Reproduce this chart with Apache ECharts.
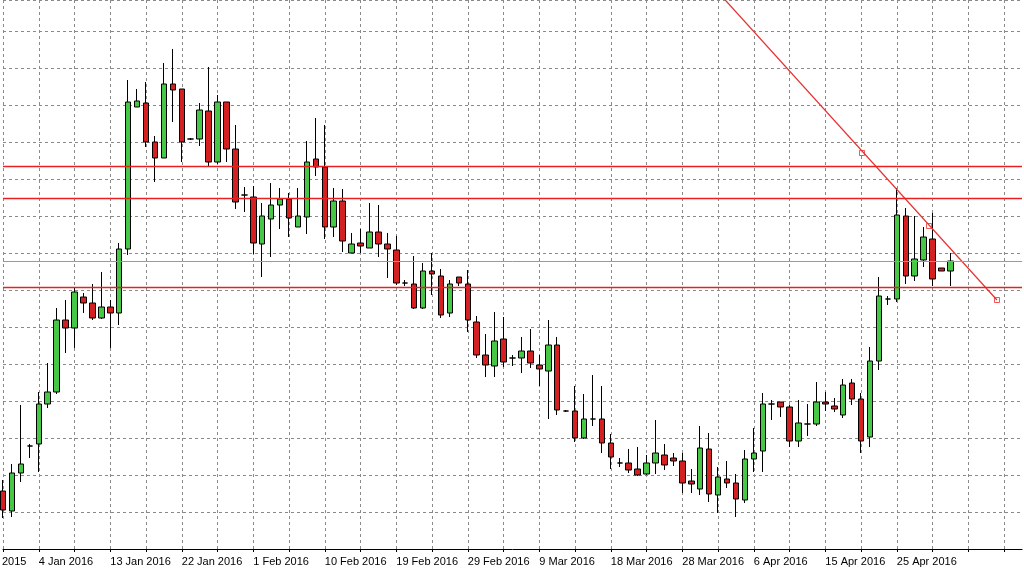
<!DOCTYPE html>
<html>
<head>
<meta charset="utf-8">
<script src="https://cdn.jsdelivr.net/npm/echarts@6/dist/echarts.min.js"></script>
<style>
  html, body { margin: 0; padding: 0; background: #fff; }
  #chart { width: 1024px; height: 575px; }
</style>
</head>
<body>
<div id="chart"></div>
<script>
// 日期标签（每8根K线一个）
var labelDates = {4:'4 Jan 2016', 12:'13 Jan 2016', 20:'22 Jan 2016', 28:'1 Feb 2016', 36:'10 Feb 2016',
  44:'19 Feb 2016', 52:'29 Feb 2016', 60:'9 Mar 2016', 68:'18 Mar 2016', 76:'28 Mar 2016',
  84:'6 Apr 2016', 92:'15 Apr 2016', 100:'25 Apr 2016'};
var slotCount = 115;

// K线数据 [开, 收, 低, 高]
var candles = [
  [58,39,31,69],[38,76,32,85],[76,85,67,144],[103,103,91,105],[105,145,77,157],
  [145,157,141,186],[157,229,155,241],[229,221,196,249],[221,257,201,262],[252,246,236,256],
  [246,231,229,265],[231,242,230,277],[242,236,201,249],[236,300,224,306],[300,447,294,469],
  [442,448,442,460],[446,407,402,467],[407,391,367,413],[391,465,391,486],[465,459,427,500],
  [460,407,387,460],[410,410,409,411],[410,439,403,446],[438,387,382,482],[387,447,385,454],
  [447,400,387,447],[400,347,340,424],[354,354,337,362],[352,306,295,363],[305,333,272,346],
  [330,344,292,366],[344,350,320,361],[350,331,312,356],[322,333,322,361],[332,387,315,408],
  [390,382,373,431],[382,322,310,424],[322,348,312,361],[348,308,297,360],[296,305,296,316],
  [306,303,296,320],[301,317,301,346],[317,305,292,344],[305,300,271,316],[299,266,264,313],
  [266,266,263,269],[265,241,240,293],[241,278,240,286],[278,275,254,296],[273,234,231,280],
  [236,265,232,269],[272,266,263,272],[265,229,217,279],[227,194,191,233],[194,184,172,215],
  [183,208,172,237],[210,187,182,232],[191,191,183,194],[191,198,176,212],[198,186,181,220],
  [184,180,163,194],[178,204,130,229],[204,139,134,212],[138,138,137,139],[138,111,107,163],
  [111,130,110,155],[130,130,123,174],[130,106,96,163],[106,92,80,115],[86,86,82,91],
  [86,79,76,100],[80,74,73,102],[75,86,74,94],[86,96,75,129],[94,84,79,105],
  [91,88,83,96],[88,66,56,96],[68,65,56,80],[60,101,54,123],[100,55,47,116],
  [54,72,36,82],[70,66,61,88],[66,50,32,75],[49,90,46,99],[90,96,77,121],
  [98,145,77,156],[145,145,129,149],[147,142,132,147],[142,108,102,144],[108,126,102,149],
  [125,125,113,145],[125,147,123,167],[147,145,138,157],[143,140,137,151],[134,164,131,170],
  [166,150,144,170],[150,108,96,156],[112,188,102,202],[188,253,179,272],[250,250,244,253],
  [250,334,247,361],[333,273,265,341],[273,290,268,333],[289,312,282,322],[310,270,263,336],
  [281,278,278,281],[278,288,263,296]
];

// 水平支撑/阻力线
var redLevels = [383, 351, 262];
var lastPrice = 288;
// 趋势线（两端点）及锚点
var trendLine = [[80.8, 549], [111.2, 249]];
var trendMarks = [[96.1, 396], [103.6, 323], [111.2, 249]];

var categories = [];
for (var i = 0; i < slotCount; i++) categories.push(labelDates[i] || '');

var myChart = echarts.init(document.getElementById('chart'));

var gridStyle = { color: '#8a8a8a', type: [3, 3], width: 1 };

var levelLines = [];
redLevels.forEach(function (v) {
  levelLines.push({ yAxis: v });
});
levelLines.push({ yAxis: lastPrice, lineStyle: { color: '#9a9a9a', type: 'solid', width: 1 } });

var option = {
  animation: false,
  backgroundColor: '#fff',
  grid: { left: 3, right: 2, top: 0, bottom: 26 },
  xAxis: [{
    type: 'category',
    data: categories,
    boundaryGap: false,
    axisLine: { show: true, lineStyle: { color: '#000', width: 1 } },
    axisTick: { show: true, length: 3, lineStyle: { color: '#000' },
      interval: function (i) { return i % 4 === 0; } },
    axisLabel: {
      interval: function (i, v) { return v !== ''; },
      align: 'left', margin: 7, color: '#000',
      fontFamily: 'Liberation Sans', fontSize: 11
    },
    splitLine: { show: true, interval: function (i) { return i % 4 === 0; }, lineStyle: gridStyle }
  }, {
    type: 'value', min: 0, max: slotCount - 1, show: false
  }],
  yAxis: {
    type: 'value', min: 0, max: 549, interval: 37,
    axisLine: { show: false }, axisTick: { show: false }, axisLabel: { show: false },
    splitLine: { show: true, lineStyle: gridStyle }
  },
  graphic: [{
    type: 'text', left: 2, top: 556,
    style: { text: '2015', fill: '#000', font: '11px "Liberation Sans"' }
  }],
  series: [{
    type: 'candlestick',
    data: candles,
    barWidth: 6,
    clip: false,
    itemStyle: {
      color: '#46c846', color0: '#d42020',
      borderColor: '#000', borderColor0: '#000', borderWidth: 1
    },
    markLine: {
      silent: true, symbol: 'none', label: { show: false },
      lineStyle: { color: '#e82020', type: 'solid', width: 1.3 },
      data: levelLines
    }
  }, {
    type: 'line',
    xAxisIndex: 1,
    data: trendLine,
    symbol: 'none',
    lineStyle: { color: '#e83030', width: 1.2 }
  }, {
    type: 'scatter',
    xAxisIndex: 1,
    data: trendMarks,
    symbol: 'rect', symbolSize: 5,
    itemStyle: { color: '#fff', borderColor: '#e83030', borderWidth: 1 }
  }]
};

myChart.setOption(option);
</script>
</body>
</html>
